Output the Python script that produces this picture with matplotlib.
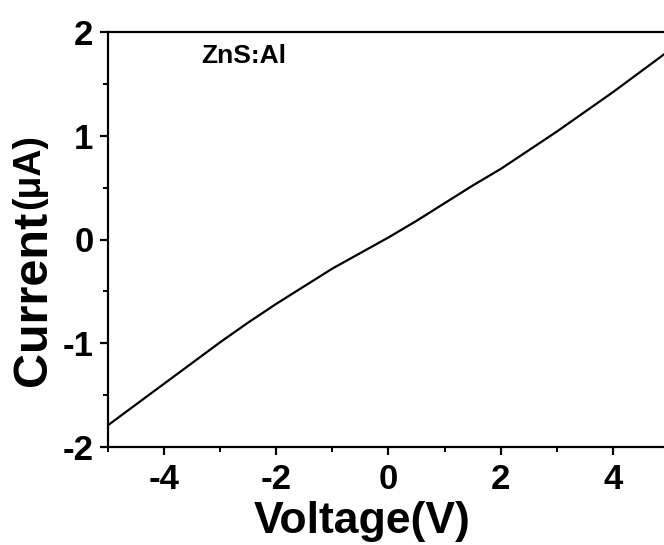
#!/usr/bin/env python3
"""
I-V curve of a ZnS:Al device (current vs. voltage sweep).
"""

import matplotlib
matplotlib.use("Agg")
import matplotlib.pyplot as plt
from matplotlib.ticker import MultipleLocator

# ── data ────────────────────────────────────────────────────────
voltage = [-5.0, -4.5, -4.0, -3.5, -3.0, -2.5, -2.0, -1.5, -1.0, -0.5, 0.0,
           0.5, 1.0, 1.5, 2.0, 2.5, 3.0, 3.5, 4.0, 4.5, 5.0]
current = [-1.79, -1.59, -1.39, -1.19, -0.99, -0.80, -0.62, -0.45, -0.28, -0.13, 0.02,
           0.18, 0.35, 0.52, 0.68, 0.86, 1.04, 1.23, 1.42, 1.62, 1.82]

x_ticks = [-4, -2, 0, 2, 4]
y_ticks = [-2, -1, 0, 1, 2]
sample_label = "ZnS:Al"

plt.rcParams["font.family"] = ["Liberation Sans", "DejaVu Sans"]
plt.rcParams["font.weight"] = "bold"
plt.rcParams["axes.unicode_minus"] = False

W, H = 664, 545
fig = plt.figure(figsize=(W / 100, H / 100), dpi=100)

# axes box in pixels: left 108, right 669 (cut off by the image), top 32, bottom 447
ax = fig.add_axes([108 / W, (H - 447) / H, (669 - 108) / W, (447 - 32) / H])

ax.plot(voltage, current, color="black", linewidth=1.6)

ax.set_xlim(-5, 5)
ax.set_ylim(-2, 2)
ax.set_xticks(x_ticks)
ax.set_yticks(y_ticks)
ax.xaxis.set_minor_locator(MultipleLocator(1))
ax.yaxis.set_minor_locator(MultipleLocator(0.5))

for s in ax.spines.values():
    s.set_linewidth(1.6)

ax.tick_params(which="major", direction="out", length=5.5, width=1.6,
               labelsize=25, pad=5)
ax.tick_params(which="minor", direction="out", length=3.5, width=1.4)
ax.tick_params(axis="x", which="major", pad=6)
for lbl in ax.get_xticklabels() + ax.get_yticklabels():
    lbl.set_fontweight("bold")

fig.text(244 / W, 1 - 56 / H, sample_label, fontsize=19, fontweight="bold",
         ha="center", va="center")

# axis titles
fig.text(362 / W, 1 - 521 / H, "Voltage(V)", fontsize=32, fontweight="bold",
         ha="center", va="center")
cur = fig.text(34 / W, 1 - 298 / H, "Current", fontsize=35, fontweight="bold",
               ha="center", va="center", rotation=90)
ax.annotate("(\u03bcA)", xy=(0.4, 1.0), xycoords=cur, xytext=(0, 1),
            textcoords="offset points", fontsize=27, fontweight="bold",
            ha="center", va="bottom", rotation=90)

fig.savefig("out.png", dpi=100)
